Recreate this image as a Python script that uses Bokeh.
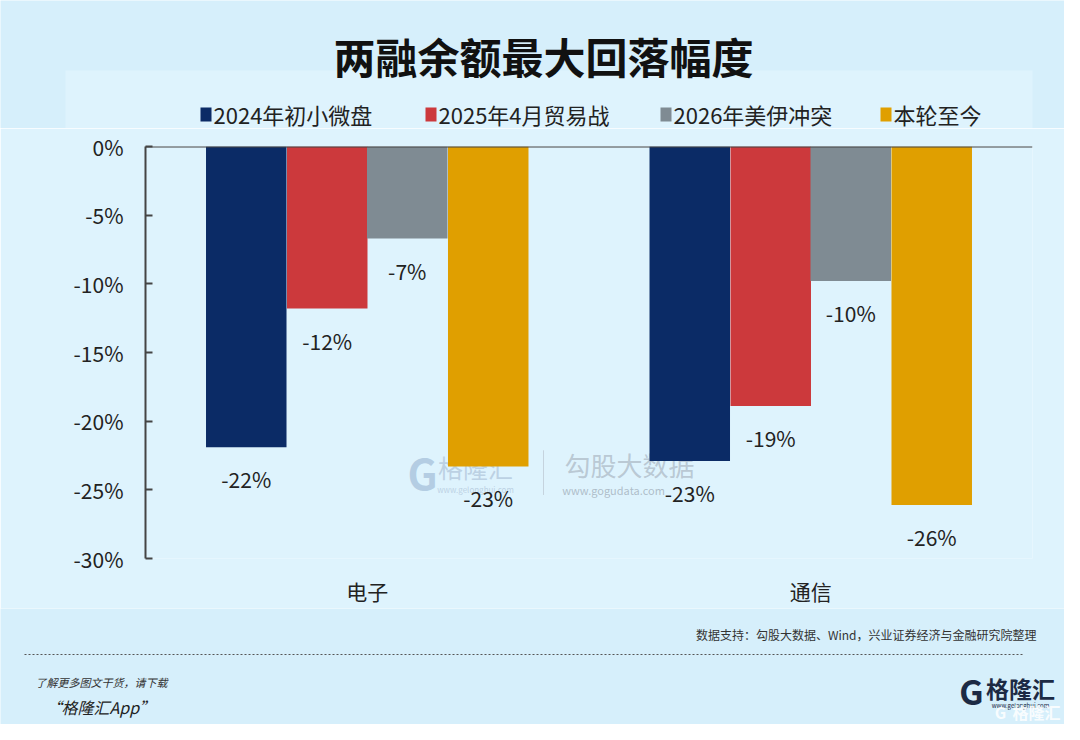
from bokeh.plotting import figure
from bokeh.layouts import column
from bokeh.models import (Range1d, FixedTicker, PrintfTickFormatter, Label, Span,
                          ColumnDataSource)
from bokeh.embed import file_html
from bokeh.resources import INLINE
from bokeh.core.properties import value

# ---------------- data ----------------
categories = ["电子", "通信"]
series_names = ["2024年初小微盘", "2025年4月贸易战", "2026年美伊冲突", "本轮至今"]
s2024 = [-21.9, -22.9]
s2025 = [-11.8, -18.9]
s2026 = [-6.7, -9.8]
snow = [-23.3, -26.1]
labels2024 = ["-22%", "-23%"]
labels2025 = ["-12%", "-19%"]
labels2026 = ["-7%", "-10%"]
labelsnow = ["-23%", "-26%"]
y_ticks = [0, -5, -10, -15, -20, -25, -30]
title_text = "两融余额最大回落幅度"
source_text = "数据支持：勾股大数据、Wind，兴业证券经济与金融研究院整理"

colors = ["#0b2b66", "#cc393c", "#7f8b93", "#e09f00"]
series = [s2024, s2025, s2026, snow]
series_labels = [labels2024, labels2025, labels2026, labelsnow]

FONT = "Noto Sans CJK SC"
BG = "#d6effb"
PANEL = "#def3fd"
W = 1064
HEAD_H = 128          # header: page y 0..128
MAIN_TOP, MAIN_BOT = 128, 608
FOOT_H = 724 - MAIN_BOT


def blank(height, y0, y1, fill):
    f = figure(width=W, height=height, output_backend="svg", toolbar_location=None,
               x_range=Range1d(0, W), y_range=Range1d(y1, y0),
               x_axis_type=None, y_axis_type=None,
               min_border=0, min_border_left=0, min_border_right=0,
               min_border_top=0, min_border_bottom=0, frame_align=False,
               background_fill_color=fill, border_fill_color=fill, outline_line_color=None)
    f.grid.visible = False
    return f


# ---------------- header (title + legend) ----------------
head = blank(HEAD_H, 0, HEAD_H, BG)
head.quad(left=[65], right=[1032], top=[70], bottom=[HEAD_H], fill_color=PANEL, line_color=None)
head.text(x=[543], y=[55], text=[title_text], text_align="center", text_baseline="middle",
          text_font=value(FONT), text_font_size="42px", text_font_style="bold",
          text_color="#111111")
leg_x = [200, 425, 660, 880]
leg_y = 114
head.quad(left=leg_x, right=[v + 11 for v in leg_x], top=[leg_y - 7] * 4,
          bottom=[leg_y + 7] * 4, fill_color=colors, line_color=None)
head.text(x=[v + 13 for v in leg_x], y=[leg_y - 1] * 4, text=series_names, text_align="left",
          text_baseline="middle", text_font=value(FONT), text_font_size="22px",
          text_color="#222222")

# ---------------- main chart ----------------
FL, FR, FT, FB = 145, 1032, 146, 561
XPX = (FR - FL) / 2.0
YPX = (FB - FT) / 30.0


def dx(x):
    return (x - FL) / XPX


def dy(y):
    return -(y - FT) / YPX


p = figure(width=W, height=MAIN_BOT - MAIN_TOP, output_backend="svg", toolbar_location=None,
           x_range=Range1d(0, 2), y_range=Range1d(-30, 0),
           min_border_left=FL, min_border_right=W - FR,
           min_border_top=FT - MAIN_TOP, min_border_bottom=MAIN_BOT - FB, frame_align=False,
           background_fill_color=PANEL, border_fill_color=PANEL, outline_line_color=None)
p.grid.visible = False

# watermark (behind bars)
p.add_layout(Label(x=dx(422), y=dy(473), text="G", text_align="center", text_baseline="middle",
                   text_font=FONT, text_font_size="42px", text_font_style="bold",
                   text_color="#a9c3dc", text_alpha=0.8, level="underlay"))
p.add_layout(Label(x=dx(475), y=dy(469), text="格隆汇", text_align="center", text_baseline="middle",
                   text_font=FONT, text_font_size="25px", text_color="#b3c8dc", text_alpha=0.8,
                   level="underlay"))
p.add_layout(Label(x=dx(475), y=dy(491), text="www.gelonghui.com", text_align="center",
                   text_baseline="middle", text_font=FONT, text_font_size="8px",
                   text_color="#b3c8dc", text_alpha=0.8, level="underlay"))
p.segment(x0=[dx(543)], y0=[dy(452)], x1=[dx(543)], y1=[dy(497)], line_color="#c5d3de",
          line_width=1, level="underlay")
p.add_layout(Label(x=dx(629), y=dy(466), text="勾股大数据", text_align="center", text_baseline="middle",
                   text_font=FONT, text_font_size="26px", text_color="#b5c3cf", text_alpha=0.9,
                   level="underlay"))
p.add_layout(Label(x=dx(613), y=dy(492), text="www.gogudata.com", text_align="center",
                   text_baseline="middle", text_font=FONT, text_font_size="11px",
                   text_color="#a9b7c3", text_alpha=0.9, level="underlay"))

offsets = [-0.2728, -0.0902, 0.0902, 0.2728]
bar_w = 0.1815
for k in range(4):
    xs = [i + 0.5 + offsets[k] for i in range(len(categories))]
    src = ColumnDataSource(dict(x=xs, top=[0] * len(xs), bottom=series[k], lab=series_labels[k]))
    p.vbar(x="x", width=bar_w, top="top", bottom="bottom", source=src,
           fill_color=colors[k], line_color=None)
    p.text(x="x", y="bottom", text="lab", source=src, text_align="center",
           text_baseline="middle", y_offset=32, text_font=value(FONT),
           text_font_size="21px", text_color="#222222")

p.yaxis.ticker = FixedTicker(ticks=y_ticks)
p.yaxis.formatter = PrintfTickFormatter(format="%d%%")
p.yaxis.major_label_text_font = FONT
p.yaxis.major_label_text_font_size = "21px"
p.yaxis.major_label_text_color = "#222222"
p.yaxis.axis_line_color = "#444444"
p.yaxis.axis_line_width = 2
p.yaxis.major_tick_in = 7
p.yaxis.major_tick_out = 0
p.yaxis.major_tick_line_color = "#444444"
p.yaxis.major_tick_line_width = 2
p.yaxis.minor_tick_line_color = None
p.yaxis.major_label_standoff = 22

p.xaxis.ticker = FixedTicker(ticks=[0.5, 1.5])
p.xaxis.major_label_overrides = {0.5: categories[0], 1.5: categories[1]}
p.xaxis.major_label_text_font = FONT
p.xaxis.major_label_text_font_size = "21px"
p.xaxis.major_label_text_color = "#222222"
p.xaxis.axis_line_color = None
p.xaxis.major_tick_line_color = None
p.xaxis.minor_tick_line_color = None
p.xaxis.major_label_standoff = 11

p.add_layout(Span(location=0, dimension="width", line_color="#444444", line_width=2))

# ---------------- footer ----------------
foot = blank(FOOT_H, MAIN_BOT, 724, BG)
foot.text(x=[1036], y=[634], text=[source_text], text_align="right", text_baseline="middle",
          text_font=value(FONT), text_font_size="12px", text_color="#333333")
foot.line(x=[24, 1022], y=[654, 654], line_color="#555555", line_width=1, line_dash="2 2")
foot.text(x=[35], y=[681], text=["了解更多图文干货，请下载"], text_align="left",
          text_baseline="middle", text_font=value(FONT), text_font_size="11px",
          text_font_style="italic", text_color="#333333")
foot.text(x=[45], y=[706], text=["“格隆汇App”"], text_align="left", text_baseline="middle",
          text_font=value(FONT), text_font_size="16px", text_font_style="italic",
          text_color="#222222")
# logo
foot.text(x=[971], y=[690], text=["G"], text_align="center", text_baseline="middle",
          text_font=value(FONT), text_font_size="34px", text_font_style="bold",
          text_color="#1c2a44")
foot.text(x=[1020], y=[687], text=["格隆汇"], text_align="center", text_baseline="middle",
          text_font=value(FONT), text_font_size="23px", text_font_style="bold",
          text_color="#1c2a44")
foot.text(x=[1020], y=[705], text=["www.gelonghui.com"], text_align="center",
          text_baseline="middle", text_font=value(FONT), text_font_size="6px",
          text_color="#1c2a44")
foot.text(x=[1000, 1036], y=[711, 711], text=["G", "格隆汇"], text_align="center",
          text_baseline="middle", text_font=value(FONT), text_font_size="16px",
          text_font_style="bold", text_color="#ffffff", text_alpha=0.85)

layout = column(head, p, foot, spacing=0)
open("out.html", "w").write(file_html(layout, INLINE))
